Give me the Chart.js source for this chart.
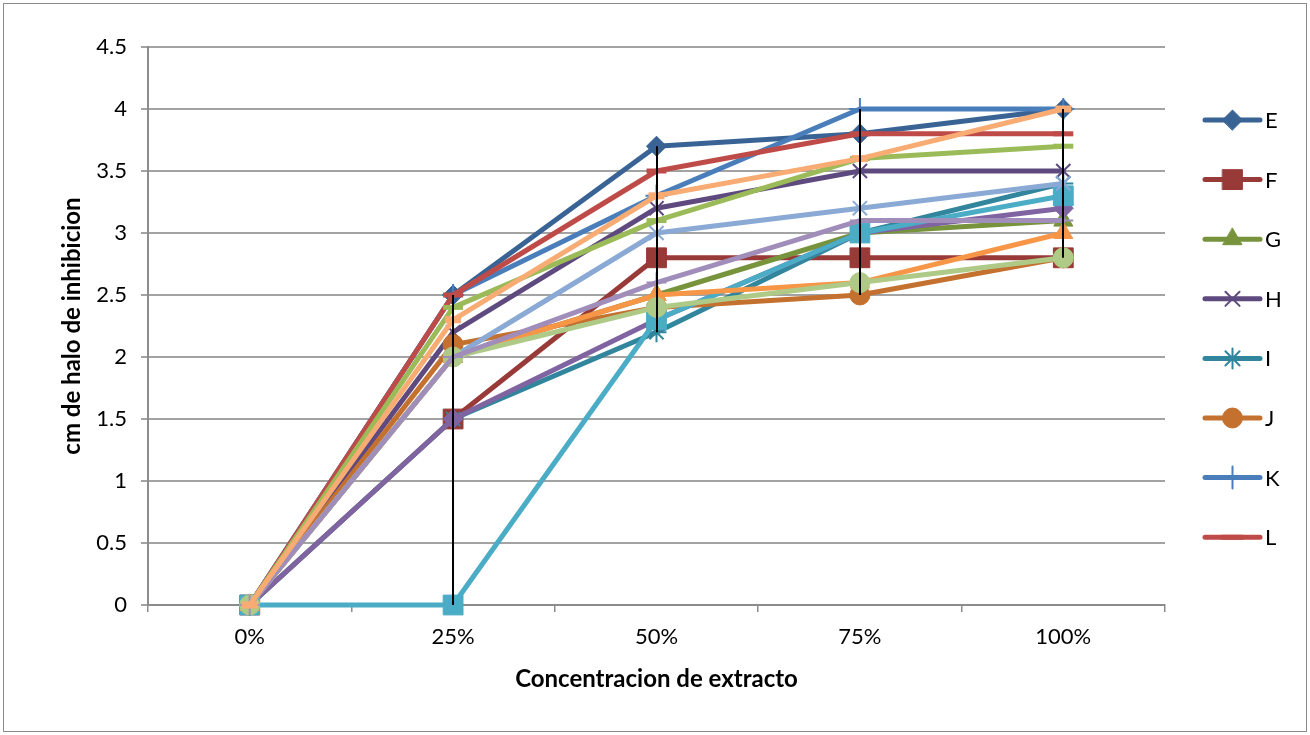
<!DOCTYPE html>
<html>
<head>
<meta charset="utf-8">
<script src="https://cdn.jsdelivr.net/npm/chart.js@4/dist/chart.umd.min.js"></script>
<style>
  html, body { margin: 0; padding: 0; background: #ffffff; }
  #wrap { width: 1310px; height: 735px; }
</style>
</head>
<body>
<div id="wrap"><canvas id="chart" width="1310" height="735"></canvas></div>
<script>
// Concentration of extract on the category axis
const categories = ['0%', '25%', '50%', '75%', '100%'];

// Inhibition halo (cm) per sample
const seriesE = [0, 2.5, 3.7, 3.8, 4.0];
const seriesF = [0, 1.5, 2.8, 2.8, 2.8];
const seriesG = [0, 2.0, 2.5, 3.0, 3.1];
const seriesH = [0, 2.2, 3.2, 3.5, 3.5];
const seriesI = [0, 1.5, 2.2, 3.0, 3.4];
const seriesJ = [0, 2.1, 2.4, 2.5, 2.8];
const seriesK = [0, 2.5, 3.3, 4.0, 4.0];
const seriesL = [0, 2.5, 3.5, 3.8, 3.8];
const seriesM = [0, 2.4, 3.1, 3.6, 3.7];
const seriesN = [0, 1.5, 2.3, 3.0, 3.2];
const seriesO = [0, 0, 2.3, 3.0, 3.3];
const seriesP = [0, 2.0, 2.5, 2.6, 3.0];
const seriesQ = [0, 2.0, 3.0, 3.2, 3.4];
const seriesR = [0, 2.0, 2.4, 2.6, 2.8];
const seriesS = [0, 2.0, 2.6, 3.1, 3.1];
const seriesT = [0, 2.3, 3.3, 3.6, 4.0];

const seriesNames = ['E', 'F', 'G', 'H', 'I', 'J', 'K', 'L', 'M', 'N', 'O', 'P', 'Q', 'R', 'S', 'T'];
const seriesValues = [seriesE, seriesF, seriesG, seriesH, seriesI, seriesJ, seriesK, seriesL,
                      seriesM, seriesN, seriesO, seriesP, seriesQ, seriesR, seriesS, seriesT];

// Y axis range, step and tick labels
const yMin = 0, yMax = 4.5, yStep = 0.5;
const yTickLabels = ['0', '0.5', '1', '1.5', '2', '2.5', '3', '3.5', '4', '4.5'];

// Line colour and marker for each series
const seriesStyles = [
  { color: '#386394', marker: 'rectRot',  r: 10, bw: 1 },
  { color: '#983a37', marker: 'rect',     r: 14, bw: 1 },
  { color: '#77933c', marker: 'triangle', r: 11, bw: 1 },
  { color: '#5e4a7e', marker: 'crossRot', r: 10, bw: 2 },
  { color: '#31859c', marker: 'star',     r: 10, bw: 2 },
  { color: '#c4712f', marker: 'circle',   r: 10, bw: 1 },
  { color: '#4a7ebb', marker: 'cross',    r: 11, bw: 2 },
  { color: '#be4b48', marker: 'line',     r: 10, bw: 5 },
  { color: '#9bbb59', marker: 'line',     r: 10, bw: 5 },
  { color: '#8064a2', marker: 'rectRot',  r: 10, bw: 1 },
  { color: '#4bacc6', marker: 'rect',     r: 14, bw: 1 },
  { color: '#f79646', marker: 'triangle', r: 11, bw: 1 },
  { color: '#8aa9d4', marker: 'crossRot', r: 10, bw: 2 },
  { color: '#aeca86', marker: 'circle',   r: 10, bw: 1 },
  { color: '#a08dba', marker: 'cross',    r: 10, bw: 2 },
  { color: '#f8ab72', marker: 'line',     r: 8,  bw: 7 }
];

const FONT = 'Lato, "Open Sans", "Liberation Sans", sans-serif';
const LEGEND_ENTRIES = 8;   // the legend box has room for eight entries

const datasets = seriesValues.map((vals, i) => {
  const st = seriesStyles[i];
  return {
    label: seriesNames[i],
    data: vals,
    borderColor: st.color,
    backgroundColor: st.color,
    borderWidth: 5,
    borderJoinStyle: 'round',
    borderCapStyle: 'round',
    tension: 0,
    pointStyle: st.marker,
    pointRadius: st.r,
    pointHoverRadius: st.r,
    pointBorderWidth: st.bw,
    pointBackgroundColor: st.color,
    pointBorderColor: st.color,
    clip: false,
    order: -i
  };
});

// Frame round the whole chart
const framePlugin = {
  id: 'frame',
  beforeDraw(chart) {
    const ctx = chart.ctx;
    ctx.save();
    ctx.fillStyle = '#ffffff';
    ctx.fillRect(0, 0, chart.width, chart.height);
    ctx.strokeStyle = '#8a8a8a';
    ctx.lineWidth = 1;
    ctx.strokeRect(3.5, 3.5, chart.width - 7, chart.height - 7);
    ctx.restore();
  }
};

// High-low lines: span from the lowest to the highest value at each category
const highLowPlugin = {
  id: 'highLow',
  afterDatasetsDraw(chart) {
    const { ctx, scales: { x, y } } = chart;
    const sets = chart.data.datasets.map(d => d.data);
    ctx.save();
    ctx.strokeStyle = '#000000';
    ctx.lineWidth = 2;
    categories.forEach((c, i) => {
      const vals = sets.map(s => s[i]);
      const lo = Math.min(...vals), hi = Math.max(...vals);
      if (hi === lo) return;
      const px = Math.round(x.getPixelForValue(i));
      ctx.beginPath();
      ctx.moveTo(px, y.getPixelForValue(lo));
      ctx.lineTo(px, y.getPixelForValue(hi));
      ctx.stroke();
    });
    ctx.restore();
  }
};

// Legend at the right: line sample with marker and the series name
const sideLegendPlugin = {
  id: 'sideLegend',
  afterDraw(chart) {
    const ctx = chart.ctx;
    const x0 = 1205, x1 = 1260, top = 120, gap = 59.6;
    chart.data.datasets.slice(0, LEGEND_ENTRIES).forEach((ds, i) => {
      const y = top + i * gap;
      ctx.save();
      ctx.strokeStyle = ds.borderColor;
      ctx.fillStyle = ds.borderColor;
      ctx.lineWidth = 5;
      ctx.lineCap = 'round';
      ctx.beginPath();
      ctx.moveTo(x0, y);
      ctx.lineTo(x1, y);
      ctx.stroke();
      ctx.lineWidth = ds.pointBorderWidth;
      Chart.helpers.drawPoint(ctx, {
        pointStyle: ds.pointStyle,
        radius: ds.pointRadius,
        borderWidth: ds.pointBorderWidth,
        rotation: 0
      }, (x0 + x1) / 2, y);
      ctx.fillStyle = '#000000';
      ctx.font = '22px ' + FONT;
      ctx.textAlign = 'left';
      ctx.textBaseline = 'middle';
      ctx.fillText(ds.label, x1 + 5, y + 1);
      ctx.restore();
    });
  }
};

new Chart(document.getElementById('chart'), {
  type: 'line',
  data: { labels: categories, datasets },
  options: {
    responsive: false,
    animation: false,
    events: [],
    layout: { padding: { left: 0, top: 47, right: 145, bottom: 0 } },
    plugins: {
      legend: { display: false },
      tooltip: { enabled: false }
    },
    scales: {
      x: {
        type: 'category',
        offset: true,
        grid: {
          display: true,
          offset: true,
          drawOnChartArea: false,
          drawTicks: true,
          tickLength: 7,
          color: '#8c8c8c',
          lineWidth: 1.5
        },
        border: { display: true, color: '#8c8c8c', width: 2 },
        ticks: { color: '#000000', font: { family: FONT, size: 22 }, padding: 12 },
        title: {
          display: true,
          text: 'Concentracion de extracto',
          color: '#000000',
          font: { family: FONT, size: 24, weight: 'bold' },
          padding: { top: 0, bottom: 41 }
        },
        afterFit(scale) { scale.height = 130; }
      },
      y: {
        min: yMin,
        max: yMax,
        ticks: {
          stepSize: yStep,
          color: '#000000',
          font: { family: FONT, size: 22 },
          padding: 14,
          callback: (value, index) => yTickLabels[index]
        },
        grid: {
          color: '#a3a3a3',
          lineWidth: 2,
          drawTicks: true,
          tickLength: 7
        },
        border: { display: true, color: '#8c8c8c', width: 2 },
        title: {
          display: true,
          text: 'cm de halo de inhibicion',
          color: '#000000',
          font: { family: FONT, size: 24, weight: 'bold' },
          padding: { top: 58, bottom: 0 }
        },
        afterFit(scale) { scale.width = 148; }
      }
    }
  },
  plugins: [framePlugin, highLowPlugin, sideLegendPlugin]
});
</script>
</body>
</html>
